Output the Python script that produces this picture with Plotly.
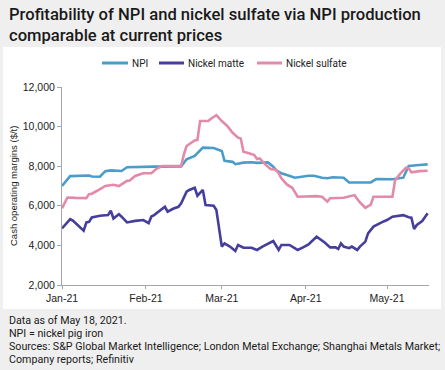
import plotly.graph_objects as go

# ---------------- data ----------------
npi_dates = ["2021-01-01", "2021-01-03", "2021-01-04", "2021-01-11", "2021-01-12", "2021-01-15",
             "2021-01-17", "2021-01-19", "2021-01-23", "2021-01-25", "2021-01-30", "2021-02-04",
             "2021-02-14", "2021-02-16", "2021-02-19", "2021-02-21", "2021-02-22", "2021-02-26",
             "2021-03-01", "2021-03-02", "2021-03-05", "2021-03-06", "2021-03-09", "2021-03-12",
             "2021-03-14", "2021-03-18", "2021-03-20", "2021-03-21", "2021-03-23", "2021-03-25",
             "2021-03-28", "2021-04-02", "2021-04-04", "2021-04-07", "2021-04-09", "2021-04-11",
             "2021-04-15", "2021-04-17", "2021-04-25", "2021-04-27", "2021-05-03", "2021-05-07",
             "2021-05-08", "2021-05-09", "2021-05-13", "2021-05-16"]
npi_values = [7000, 7300, 7500, 7530, 7480, 7470,
              7750, 7790, 7760, 7950, 7970, 7980,
              7990, 8350, 8520, 8770, 8940, 8920,
              8770, 8270, 8220, 8100, 8180, 8200,
              8170, 8190, 7970, 7800, 7640, 7560,
              7420, 7520, 7520, 7420, 7390, 7440,
              7420, 7180, 7180, 7350, 7340, 7420,
              7760, 8010, 8060, 8090]

matte_dates = ["2021-01-01", "2021-01-04", "2021-01-05", "2021-01-07", "2021-01-09", "2021-01-10",
               "2021-01-11", "2021-01-12", "2021-01-15", "2021-01-18", "2021-01-19", "2021-01-20",
               "2021-01-22", "2021-01-23", "2021-01-25", "2021-01-28", "2021-01-31", "2021-02-02",
               "2021-02-03", "2021-02-04", "2021-02-07", "2021-02-08", "2021-02-09", "2021-02-11",
               "2021-02-13", "2021-02-14", "2021-02-16", "2021-02-17", "2021-02-19", "2021-02-20",
               "2021-02-22", "2021-02-23", "2021-02-26", "2021-02-27", "2021-03-01", "2021-03-02",
               "2021-03-04", "2021-03-06", "2021-03-07", "2021-03-09", "2021-03-12", "2021-03-14",
               "2021-03-16", "2021-03-18", "2021-03-20", "2021-03-22", "2021-03-23", "2021-03-26",
               "2021-03-29", "2021-03-31", "2021-04-02", "2021-04-05", "2021-04-08", "2021-04-10",
               "2021-04-12", "2021-04-13", "2021-04-14", "2021-04-15", "2021-04-17", "2021-04-18",
               "2021-04-20", "2021-04-21", "2021-04-23", "2021-04-24", "2021-04-26", "2021-04-29",
               "2021-05-01", "2021-05-03", "2021-05-05", "2021-05-07", "2021-05-09", "2021-05-10",
               "2021-05-11", "2021-05-12", "2021-05-14", "2021-05-16"]
matte_values = [4860, 5330, 5250, 5000, 4740, 5160,
                5190, 5410, 5500, 5530, 5750, 5360,
                5580, 5450, 5160, 5240, 5280, 5120,
                5460, 5530, 5840, 5950, 5700, 5850,
                5950, 6120, 6710, 6800, 6910, 6510,
                6800, 6040, 6000, 5790, 3940, 4100,
                3940, 3720, 4020, 3880, 3880, 3770,
                3940, 4100, 4220, 3770, 4020, 4020,
                3770, 3900, 4050, 4440, 4150, 3900,
                3900, 3820, 4100, 3940, 3860, 3940,
                3770, 3940, 4190, 4610, 4950, 5160,
                5280, 5450, 5500, 5530, 5420, 5400,
                4830, 5030, 5230, 5620]

sulfate_dates = ["2021-01-01", "2021-01-03", "2021-01-06", "2021-01-10", "2021-01-11", "2021-01-12",
                 "2021-01-14", "2021-01-17", "2021-01-20", "2021-01-22", "2021-01-25", "2021-01-26",
                 "2021-01-28", "2021-01-31", "2021-02-03", "2021-02-05", "2021-02-07", "2021-02-14",
                 "2021-02-15", "2021-02-16", "2021-02-19", "2021-02-20", "2021-02-21", "2021-02-24",
                 "2021-02-25", "2021-02-27", "2021-03-01", "2021-03-03", "2021-03-05", "2021-03-07",
                 "2021-03-08", "2021-03-09", "2021-03-11", "2021-03-13", "2021-03-14", "2021-03-15",
                 "2021-03-17", "2021-03-19", "2021-03-21", "2021-03-22", "2021-03-23", "2021-03-25",
                 "2021-03-27", "2021-03-29", "2021-04-05", "2021-04-07", "2021-04-09", "2021-04-10",
                 "2021-04-15", "2021-04-17", "2021-04-19", "2021-04-21", "2021-04-23", "2021-04-25",
                 "2021-04-26", "2021-05-03", "2021-05-04", "2021-05-06", "2021-05-08", "2021-05-09",
                 "2021-05-10", "2021-05-13", "2021-05-16"]
sulfate_values = [5870, 6420, 6400, 6390, 6590, 6610,
                  6760, 7000, 7060, 7000, 7260, 7280,
                  7510, 7645, 7650, 7880, 8010, 8010,
                  8600, 9020, 9300, 9330, 10280, 10280,
                  10400, 10580, 10280, 10030, 9690, 9440,
                  9400, 8730, 8650, 8560, 8360, 8390,
                  8090, 7860, 7820, 7640, 7390, 7080,
                  6910, 6460, 6490, 6460, 6210, 6380,
                  6410, 6460, 6540, 6170, 5900, 6060,
                  6460, 6460, 7300, 7640, 7920, 7890,
                  7690, 7750, 7770]

series_names = ["NPI", "Nickel matte", "Nickel sulfate"]
series_colors = ["#4b9cc9", "#453e9b", "#e38aa8"]

y_tick_values = [2000, 4000, 6000, 8000, 10000, 12000]
x_tick_values = ["2021-01-01", "2021-02-01", "2021-03-01", "2021-04-01", "2021-05-01"]
x_tick_labels = ["Jan-21", "Feb-21", "Mar-21", "Apr-21", "May-21"]

title_lines = ["Profitability of NPI and nickel sulfate via NPI production",
               "comparable at current prices"]
y_title = "Cash operating margins ($/t)"
footnotes = ["Data as of May 18, 2021.",
             "NPI = nickel pig iron",
             "Sources: S&P Global Market Intelligence; London Metal Exchange; Shanghai Metals Market;",
             "Company reports; Refinitiv"]

# ---------------- layout geometry (pixels) ----------------
W, H = 445, 370
L, R, T, B = 62, 429, 87, 285
PW, PH = R - L, B - T


def px(xp):
    return (xp - L) / PW


def py(yp):
    return (B - yp) / PH


fig = go.Figure()
for name, color, xs, ys in zip(series_names, series_colors,
                               [npi_dates, matte_dates, sulfate_dates],
                               [npi_values, matte_values, sulfate_values]):
    fig.add_trace(go.Scatter(x=xs, y=ys, mode="lines", name=name,
                             line=dict(color=color, width=2.6), showlegend=False))

shapes = [dict(type="rect", xref="paper", yref="paper", x0=px(3), x1=px(441),
               y0=py(309), y1=py(47), fillcolor="white", line=dict(width=0), layer="below")]
annotations = []

# manual legend
legend_items = [(102, 128, 130), (159, 184, 186), (257, 282, 284)]
for (x0, x1, xt), name, color in zip(legend_items, series_names, series_colors):
    shapes.append(dict(type="line", xref="paper", yref="paper", x0=px(x0), x1=px(x1),
                       y0=py(63), y1=py(63), line=dict(color=color, width=3)))
    annotations.append(dict(text=name, xref="paper", yref="paper", x=px(xt), y=py(63),
                            xanchor="left", yanchor="middle", showarrow=False,
                            font=dict(family="Roboto", size=10, color="#222222")))

for i, line in enumerate(title_lines):
    annotations.append(dict(text=line, xref="paper", yref="paper", x=px(7), y=py(14.5 + 21 * i),
                            xanchor="left", yanchor="middle", align="left", showarrow=False,
                            font=dict(family="Roboto", size=16.6, color="#1a1a1a", weight=500)))

annotations.append(dict(text=y_title, xref="paper", yref="paper", x=px(13), y=0.5,
                        xanchor="center", yanchor="middle", textangle=-90, showarrow=False,
                        font=dict(family="Liberation Sans", size=9.5, color="#222222")))

for i, line in enumerate(footnotes):
    annotations.append(dict(text=line, xref="paper", yref="paper", x=px(7), y=py(320 + 13 * i),
                            xanchor="left", yanchor="middle", align="left", showarrow=False,
                            font=dict(family="Roboto", size=10.7, color="#1a1a1a")))

fig.update_layout(
    width=W, height=H,
    margin=dict(l=L, r=W - R, t=T, b=H - B, pad=0),
    paper_bgcolor="#efefef",
    plot_bgcolor="white",
    shapes=shapes,
    annotations=annotations,
    showlegend=False,
    xaxis=dict(type="date", range=["2021-01-01", "2021-05-16 12:00"],
               tickvals=x_tick_values, ticktext=x_tick_labels,
               showgrid=False, zeroline=False, showline=True, linecolor="#a6a6a6", linewidth=1,
               ticks="outside", ticklen=3, tickcolor="#a6a6a6",
               tickfont=dict(family="Liberation Sans", size=10.5, color="#222222")),
    yaxis=dict(range=[2000, 12000], tickvals=y_tick_values, tickformat=",d",
               showgrid=False, zeroline=False, showline=True, linecolor="#a6a6a6", linewidth=1,
               ticks="outside", ticklen=4, tickcolor="#a6a6a6",
               tickfont=dict(family="Liberation Sans", size=10.5, color="#222222")),
)

fig.write_html("out.html", config={"displayModeBar": False},
               post_script="document.body.style.margin='0';")
